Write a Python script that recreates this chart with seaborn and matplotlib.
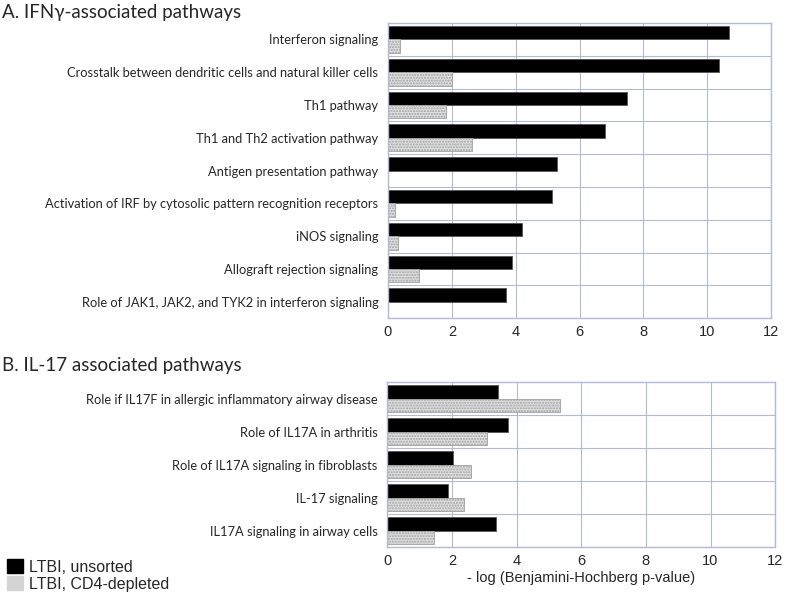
import pandas as pd
import numpy as np
import seaborn as sns
import matplotlib.pyplot as plt
from matplotlib.patches import Patch

## data

ifn_pathways = ["Interferon signaling",
                "Crosstalk between dendritic cells and natural killer cells",
                "Th1 pathway",
                "Th1 and Th2 activation pathway",
                "Antigen presentation pathway",
                "Activation of IRF by cytosolic pattern recognition receptors",
                "iNOS signaling",
                "Allograft rejection signaling",
                "Role of JAK1, JAK2, and TYK2 in interferon signaling"]
ifn_unsorted = [10.67, 10.35, 7.49, 6.80, 5.28, 5.15, 4.21, 3.88, 3.68]
ifn_cd4dep = [0.37, 2.0, 1.81, 2.64, 0.0, 0.21, 0.30, 0.98, 0.0]

il17_pathways = ["Role if IL17F in allergic inflammatory airway disease",
                 "Role of IL17A in arthritis",
                 "Role of IL17A signaling in fibroblasts",
                 "IL-17 signaling",
                 "IL17A signaling in airway cells"]
il17_unsorted = [3.42, 3.75, 2.04, 1.88, 3.37]
il17_cd4dep = [5.35, 3.08, 2.59, 2.39, 1.44]

groups = ["LTBI, unsorted", "LTBI, CD4-depleted"]
ticks = [0, 2, 4, 6, 8, 10, 12]


def long_df(names, a, b):
    df = pd.DataFrame({"pathway": names * 2,
                       "value": a + b,
                       "group": [groups[0]] * len(names) + [groups[1]] * len(names)})
    return df


def draw_panel(ax, df, n):
    sns.barplot(data=df, y="pathway", x="value", hue="group", orient="h",
                palette=["black", "#e0e0e0"], width=0.82, ax=ax,
                legend=False, edgecolor="#555555", linewidth=0.6)
    # hatch the cd4-depleted bars
    for p in ax.containers[1]:
        p.set_hatch("......")
        p.set_edgecolor("#a0a0a0")
    ax.set_xlim(0, 12)
    ax.set_ylim(n - 0.5, -0.5)
    ax.set_xticks(ticks)
    ax.set_yticks(np.arange(n) + 0.5, minor=True)
    ax.grid(True, axis="x", color="#b4b8dc", linewidth=0.8)
    ax.grid(True, axis="y", which="minor", color="#b4b8dc", linewidth=0.8)
    ax.grid(False, axis="y", which="major")
    ax.set_axisbelow(True)
    for s in ax.spines.values():
        s.set_color("#b4b8dc")
        s.set_linewidth(1.0)
    ax.tick_params(axis="both", which="both", length=0)
    ax.tick_params(axis="y", pad=7)
    ax.tick_params(axis="x", pad=5)
    for lab in ax.get_yticklabels():
        lab.set_fontfamily("Lato")
        lab.set_fontsize(9.3)
    for lab in ax.get_xticklabels():
        lab.set_fontfamily("Liberation Sans")
        lab.set_fontsize(10.5)
    ax.set_ylabel("")


sns.set_style("white")
fig = plt.figure(figsize=(8, 5.97), dpi=100)

ax1 = fig.add_axes([0.485, 0.467, 0.479, 0.4945])
draw_panel(ax1, long_df(ifn_pathways, ifn_unsorted, ifn_cd4dep), len(ifn_pathways))
ax1.set_xlabel("")

ax2 = fig.add_axes([0.484, 0.0833, 0.485, 0.2764])
draw_panel(ax2, long_df(il17_pathways, il17_unsorted, il17_cd4dep), len(il17_pathways))
ax2.set_xlabel("- log (Benjamini-Hochberg p-value)", fontfamily="Liberation Sans",
               fontsize=10.5, labelpad=2)

fig.text(0.002, 0.979, "A. IFN\u03b3-associated pathways", fontfamily="Lato",
         fontsize=13.5, va="center", ha="left")
fig.text(0.002, 0.387, "B. IL-17 associated pathways", fontfamily="Lato",
         fontsize=13.5, va="center", ha="left")

handles = [Patch(facecolor="black", edgecolor="black"),
           Patch(facecolor="#d4d4d4", edgecolor="#d4d4d4")]
fig.legend(handles, groups, loc="lower left", bbox_to_anchor=(-0.005, -0.01),
           frameon=False, prop={"family": "Liberation Sans", "size": 11.5},
           handlelength=1.0, handleheight=1.0, handletextpad=0.35,
           labelspacing=0.1, borderaxespad=0.3)

fig.savefig("out.png", dpi=100)
